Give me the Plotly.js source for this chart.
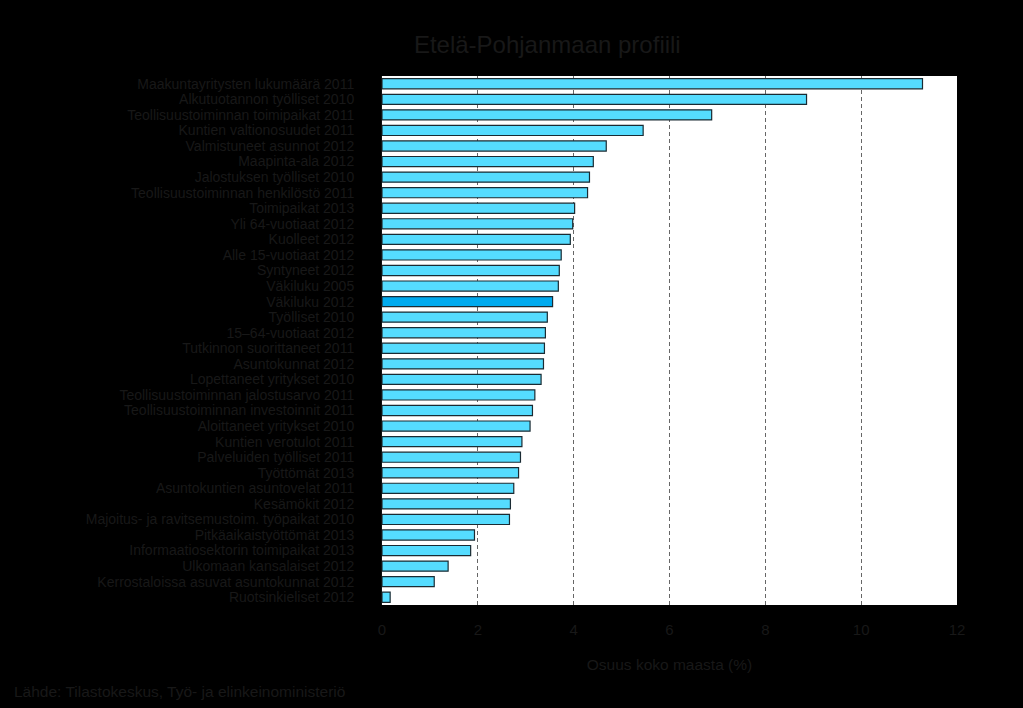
<!DOCTYPE html>
<html>
<head>
<meta charset="utf-8">
<script src="https://cdn.plot.ly/plotly-3.0.1.min.js"></script>
<style>html,body{margin:0;padding:0;background:#000;}#chart{width:1023px;height:708px;}</style>
</head>
<body>
<div id="chart"></div>
<script>
const categories = [
  "Maakuntayritysten lukumäärä 2011",
  "Alkutuotannon työlliset 2010",
  "Teollisuustoiminnan toimipaikat 2011",
  "Kuntien valtionosuudet 2011",
  "Valmistuneet asunnot 2012",
  "Maapinta-ala 2012",
  "Jalostuksen työlliset 2010",
  "Teollisuustoiminnan henkilöstö 2011",
  "Toimipaikat 2013",
  "Yli 64-vuotiaat 2012",
  "Kuolleet 2012",
  "Alle 15-vuotiaat 2012",
  "Syntyneet 2012",
  "Väkiluku 2005",
  "Väkiluku 2012",
  "Työlliset 2010",
  "15–64-vuotiaat 2012",
  "Tutkinnon suorittaneet 2011",
  "Asuntokunnat 2012",
  "Lopettaneet yritykset 2010",
  "Teollisuustoiminnan jalostusarvo 2011",
  "Teollisuustoiminnan investoinnit 2011",
  "Aloittaneet yritykset 2010",
  "Kuntien verotulot 2011",
  "Palveluiden työlliset 2011",
  "Työttömät 2013",
  "Asuntokuntien asuntovelat 2011",
  "Kesämökit 2012",
  "Majoitus- ja ravitsemustoim. työpaikat 2010",
  "Pitkäaikaistyöttömät 2013",
  "Informaatiosektorin toimipaikat 2013",
  "Ulkomaan kansalaiset 2012",
  "Kerrostaloissa asuvat asuntokunnat 2012",
  "Ruotsinkieliset 2012"
];
const shares = [
  11.28, 8.86, 6.88, 5.45, 4.68, 4.41, 4.33, 4.29, 4.02, 3.98, 3.93, 3.74,
  3.70, 3.68, 3.56, 3.45, 3.41, 3.39, 3.37, 3.32, 3.19, 3.14, 3.09, 2.92,
  2.89, 2.85, 2.75, 2.68, 2.66, 1.93, 1.85, 1.38, 1.09, 0.17
];
const highlight = "Väkiluku 2012";
const xTicks = [0, 2, 4, 6, 8, 10, 12];

const textColor = "#181818";
const fontFam = "Liberation Sans, Arial, sans-serif";
const colors = categories.map(c => c === highlight ? "#00aaee" : "#55dcff");

const trace = {
  type: "bar",
  orientation: "h",
  x: shares,
  y: categories,
  marker: {color: colors, line: {color: "#1a2b33", width: 1.2}},
  hoverinfo: "x+y"
};

const layout = {
  width: 1023, height: 708,
  paper_bgcolor: "#000000",
  plot_bgcolor: "#ffffff",
  margin: {l: 382, r: 66, t: 76, b: 103},
  bargap: 0.35,
  showlegend: false,
  font: {family: fontFam, color: textColor, size: 14},
  title: {text: "Etelä-Pohjanmaan profiili", x: 0.535, xanchor: "center", y: 0.937, yanchor: "middle",
          font: {size: 24, color: textColor, family: fontFam}},
  xaxis: {
    range: [0, 12], tickmode: "array", tickvals: xTicks, ticktext: xTicks.map(String),
    showgrid: true, gridcolor: "#666", griddash: "4px,3px", gridwidth: 1,
    zeroline: false, showline: false, ticks: "",
    ticklabelstandoff: 14,
    tickfont: {size: 15, color: textColor},
    title: {text: "Osuus koko maasta (%)", font: {size: 15.5, color: textColor}, standoff: 22}
  },
  yaxis: {
    autorange: "reversed", tickmode: "array", tickvals: categories, ticktext: categories,
    showgrid: false, zeroline: false,
    showline: true, linecolor: "#111", linewidth: 1, ticks: "",
    ticklabelstandoff: 24,
    tickfont: {size: 14, color: textColor}
  },
  annotations: [{
    text: "Lähde: Tilastokeskus, Työ- ja elinkeinoministeriö",
    xref: "paper", yref: "paper", x: 0, y: 0, xanchor: "left", yanchor: "middle",
    showarrow: false, font: {size: 15.5, color: textColor}
  }]
};
layout.annotations[0].x = -382/575 + 12/575;
layout.annotations[0].y = -(691-605)/529;

Plotly.newPlot("chart", [trace], layout, {displayModeBar: false, staticPlot: true});
</script>
</body>
</html>
